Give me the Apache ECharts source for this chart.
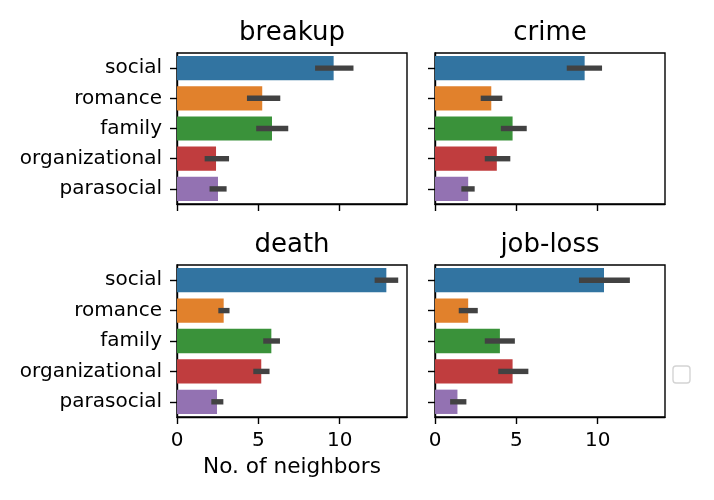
<!DOCTYPE html>
<html>
<head>
<meta charset="utf-8">
<script src="https://cdn.jsdelivr.net/npm/echarts@6/dist/echarts.min.js"></script>
<style>html,body{margin:0;padding:0;background:#fff}#c{width:714px;height:500px}</style>
</head>
<body>
<div id="c"></div>
<script>
const categories = ['social', 'romance', 'family', 'organizational', 'parasocial'];
const panelTitles = ['breakup', 'crime', 'death', 'job-loss'];
const barColors = ['#3274a1', '#e1812c', '#3a923a', '#c03d3e', '#9372b2'];
const xTicks = [0, 5, 10];
const xLabel = 'No. of neighbors';

const breakupMean = [9.63, 5.24, 5.84, 2.40, 2.52];
const breakupLow  = [8.49, 4.30, 4.87, 1.70, 2.00];
const breakupHigh = [10.85, 6.35, 6.84, 3.20, 3.05];

const crimeMean = [9.20, 3.46, 4.77, 3.80, 2.04];
const crimeLow  = [8.10, 2.81, 4.05, 3.06, 1.62];
const crimeHigh = [10.27, 4.14, 5.64, 4.63, 2.44];

const deathMean = [12.87, 2.87, 5.80, 5.18, 2.46];
const deathLow  = [12.15, 2.54, 5.30, 4.69, 2.11];
const deathHigh = [13.60, 3.23, 6.33, 5.69, 2.85];

const jobMean = [10.39, 2.04, 3.99, 4.77, 1.38];
const jobLow  = [8.85, 1.46, 3.06, 3.89, 0.93];
const jobHigh = [11.98, 2.63, 4.91, 5.74, 1.93];

const means = [breakupMean, crimeMean, deathMean, jobMean];
const lows = [breakupLow, crimeLow, deathLow, jobLow];
const highs = [breakupHigh, crimeHigh, deathHigh, jobHigh];

const FONT = 'DejaVu Sans';
const xMax = 14.14;
const grids = [
  {left: 177, top: 53, width: 230, height: 151},
  {left: 435, top: 53, width: 230, height: 151},
  {left: 177, top: 265, width: 230, height: 152},
  {left: 435, top: 265, width: 230, height: 152}
];

const option = {
  animation: false,
  backgroundColor: '#fff',
  title: panelTitles.map((t, i) => ({
    text: t,
    left: grids[i].left + grids[i].width / 2,
    textAlign: 'center',
    top: grids[i].top - 33,
    padding: 0,
    textStyle: {fontFamily: FONT, fontSize: 26, fontWeight: 'normal', color: '#000'}
  })),
  grid: grids.map(g => Object.assign({show: true, borderColor: '#000', borderWidth: 1.4, backgroundColor: 'transparent'}, g)),
  xAxis: grids.map((g, i) => ({
    type: 'value',
    gridIndex: i,
    min: 0,
    max: xMax,
    interval: 5,
    splitLine: {show: false},
    axisLine: {show: true, lineStyle: {color: '#000', width: 1.4}},
    axisTick: {show: true, customValues: xTicks, length: 7, lineStyle: {color: '#000', width: 1.4}},
    axisLabel: {show: i >= 2, customValues: xTicks, margin: 14, fontFamily: FONT, fontSize: 20, color: '#000'},
    name: i === 2 ? xLabel : '',
    nameLocation: 'middle',
    nameGap: 39,
    nameTextStyle: {fontFamily: FONT, fontSize: 21.6, color: '#000', verticalAlign: 'top'}
  })),
  yAxis: grids.map((g, i) => ({
    type: 'category',
    gridIndex: i,
    data: categories,
    inverse: true,
    axisLine: {show: true, lineStyle: {color: '#000', width: 1.4}},
    axisTick: {show: true, alignWithLabel: true, length: 7, lineStyle: {color: '#000', width: 1.4}},
    axisLabel: {show: i % 2 === 0, margin: 15, fontFamily: FONT, fontSize: 20, color: '#000'},
    splitLine: {show: false}
  })),
  series: []
};

for (let i = 0; i < 4; i++) {
  option.series.push({
    type: 'bar',
    xAxisIndex: i,
    yAxisIndex: i,
    barWidth: '80%',
    data: means[i].map((v, k) => ({value: v, itemStyle: {color: barColors[k]}}))
  });
  option.series.push({
    type: 'custom',
    xAxisIndex: i,
    yAxisIndex: i,
    z: 5,
    encode: {x: [0, 1], y: 2},
    data: lows[i].map((lo, k) => [lo, highs[i][k], k]),
    renderItem: function (params, api) {
      const p1 = api.coord([api.value(0), api.value(2)]);
      const p2 = api.coord([api.value(1), api.value(2)]);
      return {
        type: 'line',
        shape: {x1: p1[0], y1: p1[1], x2: p2[0], y2: p2[1]},
        style: {stroke: '#424242', lineWidth: 5.4, lineCap: 'butt'}
      };
    }
  });
}

option.graphic = [{
  type: 'rect',
  shape: {x: 673, y: 366, width: 17, height: 17, r: 3},
  style: {fill: '#fff', stroke: '#d4d4d4', lineWidth: 1.4}
}];

const chart = echarts.init(document.getElementById('c'), null, {renderer: 'canvas'});
chart.setOption(option);
</script>
</body>
</html>
